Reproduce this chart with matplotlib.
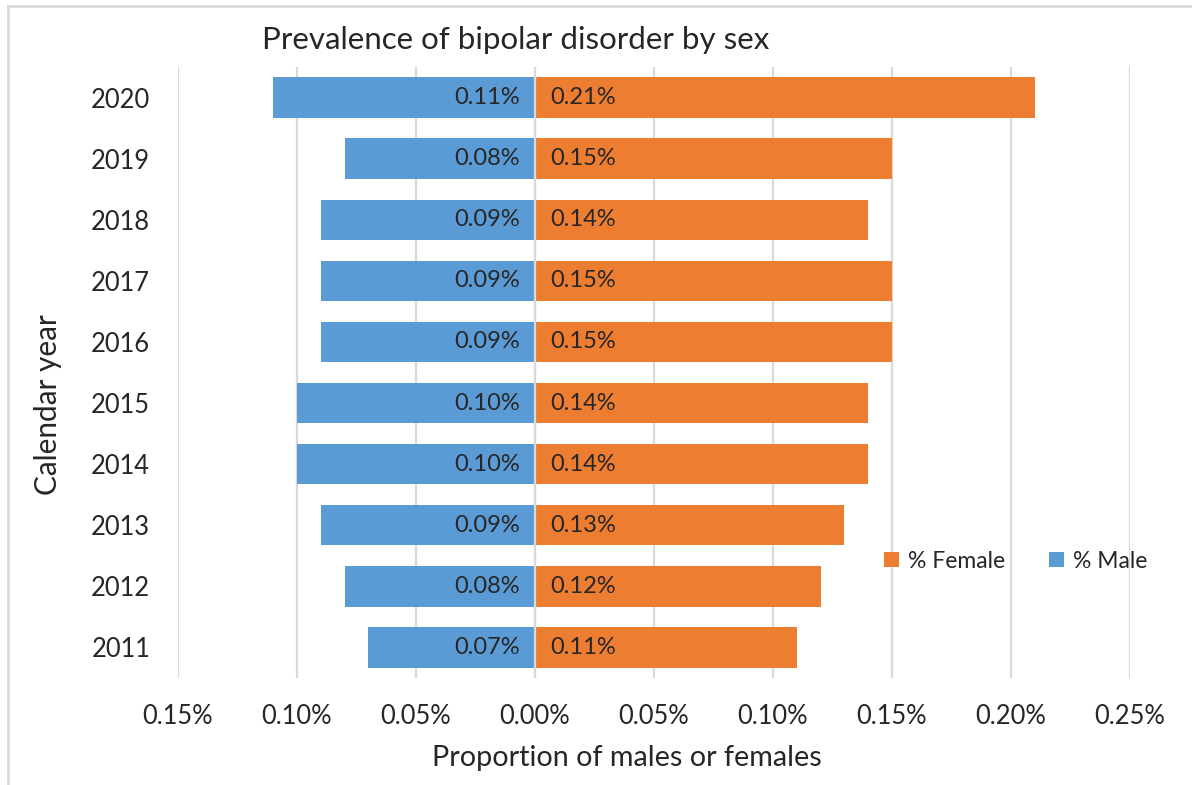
import matplotlib
matplotlib.use("Agg")
import matplotlib.pyplot as plt
from matplotlib.patches import Patch
from matplotlib.lines import Line2D
from matplotlib.ticker import FuncFormatter

years = [2011, 2012, 2013, 2014, 2015, 2016, 2017, 2018, 2019, 2020]
male = [0.07, 0.08, 0.09, 0.10, 0.10, 0.09, 0.09, 0.09, 0.08, 0.11]
female = [0.11, 0.12, 0.13, 0.14, 0.14, 0.15, 0.15, 0.14, 0.15, 0.21]
xticks = [-0.15, -0.10, -0.05, 0.0, 0.05, 0.10, 0.15, 0.20, 0.25]

BLUE = "#5B9BD5"
ORANGE = "#ED7D31"
GRID = "#D9D9D9"
TXT = "#262626"

plt.rcParams['font.family'] = ['Lato', 'DejaVu Sans']

W, H = 1192, 785
fig = plt.figure(figsize=(W / 100, H / 100), dpi=100)
ax = fig.add_axes([178 / W, 1 - 678 / H, (1130 - 178) / W, (678 - 67) / H])

pos = list(range(len(years)))
ax.barh(pos, [-m for m in male], height=0.66, color=BLUE, zorder=2)
ax.barh(pos, female, height=0.66, color=ORANGE, zorder=2)

for i, (m, f) in enumerate(zip(male, female)):
    ax.text(-0.0063, i, f"{m:.2f}%", ha='right', va='center', fontsize=17, color=TXT, zorder=4)
    ax.text(0.0063, i, f"{f:.2f}%", ha='left', va='center', fontsize=17, color=TXT, zorder=4)

ax.set_xlim(-0.15, 0.25)
ax.set_ylim(-0.5, len(years) - 0.5)
ax.set_xticks(xticks)
ax.xaxis.set_major_formatter(FuncFormatter(lambda v, p: f"{abs(v):.2f}%"))
ax.set_yticks(pos)
ax.set_yticklabels([str(y) for y in years])
ax.tick_params(axis='both', length=0, labelsize=18.4, colors=TXT)
ax.tick_params(axis='y', pad=20)
ax.tick_params(axis='x', pad=19)
for s in ax.spines.values():
    s.set_visible(False)
ax.grid(axis='x', color=GRID, linewidth=1.6, zorder=1)
ax.set_axisbelow(True)
ax.axvline(0, color=GRID, linewidth=1.6, zorder=3)

fig.text(516 / W, 1 - 40 / H, "Prevalence of bipolar disorder by sex", ha='center', va='center',
         fontsize=22.5, color=TXT)
fig.text(627 / W, 1 - 758 / H, "Proportion of males or females", ha='center', va='center',
         fontsize=20.7, color=TXT)
fig.text(48 / W, 1 - 405 / H, "Calendar year", ha='center', va='center', rotation=90,
         fontsize=21.4, color=TXT)

handles = [Patch(facecolor=ORANGE, label="% Female"), Patch(facecolor=BLUE, label="% Male")]
fig.legend(handles=handles, loc='center left', bbox_to_anchor=(884 / W, 1 - 561 / H), ncol=2,
           frameon=False, fontsize=16.5, handlelength=0.65, handleheight=0.65, handletextpad=0.4,
           columnspacing=1.9, borderpad=0, borderaxespad=0, labelcolor=TXT)

# chart area border (top and left visible)
fig.add_artist(Line2D([8 / W, 8 / W], [0, 1 - 6 / H], transform=fig.transFigure, color=GRID, linewidth=2))
fig.add_artist(Line2D([8 / W, 1], [1 - 6 / H, 1 - 6 / H], transform=fig.transFigure, color=GRID, linewidth=2))

fig.savefig("out.png", dpi=100, facecolor="white")
